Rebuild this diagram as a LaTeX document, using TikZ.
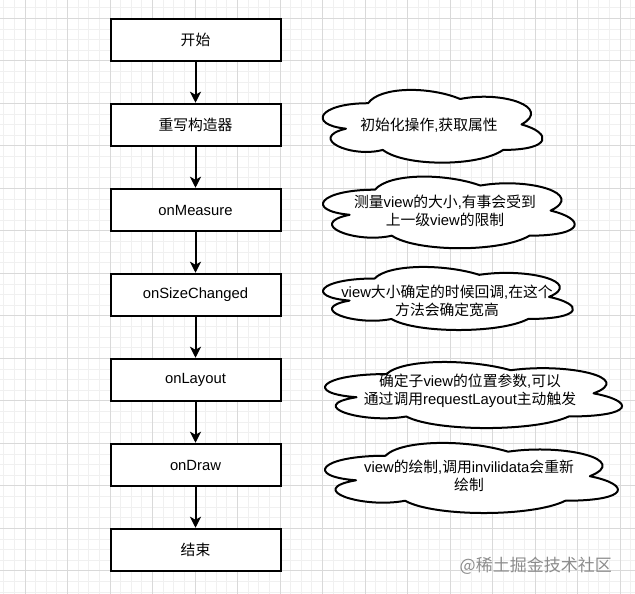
\documentclass[tikz,border=0pt]{standalone}
\usepackage{fontspec}
\setmainfont{Liberation Sans}
\newfontfamily\cjk{Noto Sans CJK SC}
\newcommand\zh[1]{{\cjk #1}}
\usetikzlibrary{arrows.meta}
\tikzset{
 minorgrid/.style={draw=black!6, line width=0.8pt},
 majorgrid/.style={draw=black!15, line width=0.8pt},
 stepbox/.style={draw=black, fill=white, line width=2pt, minimum width=170pt, minimum height=42.5pt, inner sep=0pt, font=\fontsize{14.8}{18}\selectfont},
 cloudline/.style={draw=black, fill=white, line width=2pt, line join=round},
 cloudtext/.style={align=center, inner sep=0pt, font=\fontsize{14.8}{18}\selectfont},
 flowarrow/.style={draw=black, line width=2pt, -{Stealth[length=11pt,width=11pt,inset=3pt]}},
 watermark/.style={text=black!45, font=\cjk\fontsize{17}{20}\selectfont, inner sep=0pt},
}
\newcommand\cloudpath[4]{%
 \path[cloudline] ({#1+0.25*#3},{#2+0.25*#4})
 .. controls ({#1+0.05*#3},{#2+0.25*#4}) and ({#1},{#2+0.5*#4}) .. ({#1+0.16*#3},{#2+0.55*#4})
 .. controls ({#1},{#2+0.66*#4}) and ({#1+0.18*#3},{#2+0.9*#4}) .. ({#1+0.31*#3},{#2+0.8*#4})
 .. controls ({#1+0.4*#3},{#2+#4}) and ({#1+0.7*#3},{#2+#4}) .. ({#1+0.8*#3},{#2+0.8*#4})
 .. controls ({#1+#3},{#2+0.8*#4}) and ({#1+#3},{#2+0.6*#4}) .. ({#1+0.875*#3},{#2+0.5*#4})
 .. controls ({#1+#3},{#2+0.3*#4}) and ({#1+0.8*#3},{#2+0.1*#4}) .. ({#1+0.625*#3},{#2+0.2*#4})
 .. controls ({#1+0.5*#3},{#2+0.05*#4}) and ({#1+0.3*#3},{#2+0.05*#4}) .. ({#1+0.25*#3},{#2+0.25*#4})
 -- cycle;}
\begin{document}
\begin{tikzpicture}[x=1pt,y=-1pt]
\useasboundingbox (0,0) rectangle (635,594);
\fill[white] (0,0) rectangle (635,594);
% grid
\foreach \i in {0,...,60} {
  \draw[minorgrid] ({3.75+10.625*\i},0) -- ({3.75+10.625*\i},594);
}
\foreach \j in {0,...,56} {
  \draw[minorgrid] (0,{7.675+10.625*\j}) -- (635,{7.675+10.625*\j});
}
\foreach \i in {0,...,14} {
  \draw[majorgrid] ({25+42.5*\i},0) -- ({25+42.5*\i},594);
}
\foreach \j in {0,...,13} {
  \draw[majorgrid] (0,{18.3+42.5*\j}) -- (635,{18.3+42.5*\j});
}
% flow boxes
\node[stepbox] (b1) at (195.5,40.2) {\zh{开始}};
\node[stepbox] (b2) at (195.5,125) {\zh{重写构造器}};
\node[stepbox] (b3) at (195.5,210) {onMeasure};
\node[stepbox] (b4) at (195.5,295) {onSizeChanged};
\node[stepbox] (b5) at (195.5,380) {onLayout};
\node[stepbox] (b6) at (195.5,465) {onDraw};
\node[stepbox] (b7) at (195.5,550) {\zh{结束}};
\draw[flowarrow] (b1) -- (b2);
\draw[flowarrow] (b2) -- (b3);
\draw[flowarrow] (b3) -- (b4);
\draw[flowarrow] (b4) -- (b5);
\draw[flowarrow] (b5) -- (b6);
\draw[flowarrow] (b6) -- (b7);
% clouds
\cloudpath{306.7}{82}{245.5}{84.9}
\node[cloudtext] (c1) at (429,125) {\zh{初始化操作},\zh{获取属性}};
\cloudpath{304.7}{168.8}{281}{83.6}
\node[cloudtext] (c2) at (445,211) {\zh{测量}view\zh{的大小},\zh{有事会受到}\\\zh{上一级}view\zh{的限制}};
\cloudpath{304.9}{260.1}{279}{73.6}
\node[cloudtext] (c3) at (447,301) {view\zh{大小确定的时候回调},\zh{在这个}\\\zh{方法会确定宽高}};
\cloudpath{303.5}{354.8}{331.5}{77.1}
\node[cloudtext] (c4) at (470,391) {\zh{确定子}view\zh{的位置参数},\zh{可以}\\\zh{通过调用}requestLayout\zh{主动触发}};
\cloudpath{303.7}{435.3}{327}{81.8}
\node[cloudtext] (c5) at (469,476) {view\zh{的绘制},\zh{调用}invilidata\zh{会重新}\\\zh{绘制}};
% watermark
\node[watermark, anchor=east] (wm) at (612,566) {@稀土掘金技术社区};
\end{tikzpicture}
\end{document}
